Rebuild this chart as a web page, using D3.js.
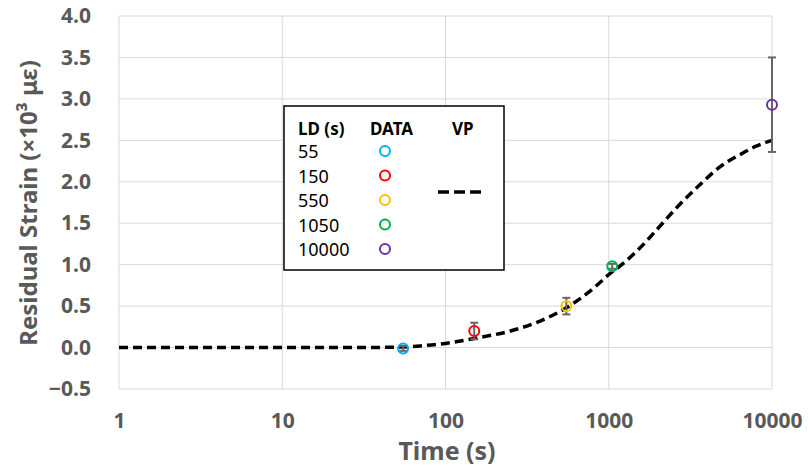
<!DOCTYPE html>
<html>
<head>
<meta charset="utf-8">
<script src="https://cdn.jsdelivr.net/npm/d3@7"></script>
<style>
  body { margin: 0; background: #fff; }
  svg { display: block; font-family: "Noto Sans", "Open Sans", sans-serif; }
</style>
</head>
<body>
<svg id="chart" width="810" height="467"></svg>
<script>
// measured data (LD times, residual strain in 10^3 microstrain)
var ldTimes = [55, 150, 550, 1050, 10000];
var ldLabels = ["55", "150", "550", "1050", "10000"];
var strain = [-0.01, 0.2, 0.5, 0.98, 2.93];
var strainErr = [0.03, 0.1, 0.1, 0.03, 0.57];
var ldColours = ["#00b0f0", "#ff0000", "#ffc000", "#00b050", "#7030a0"];

// VP model curve
var vpTime = [1, 10, 30, 50, 70, 100, 150, 250, 380, 550, 800, 1000, 1200, 1550, 2050, 2700, 3600, 4800, 6400, 8000, 10000];
var vpStrain = [0, 0, 0, 0.005, 0.02, 0.05, 0.11, 0.2, 0.32, 0.48, 0.71, 0.88, 1.0, 1.2, 1.46, 1.72, 1.96, 2.18, 2.33, 2.43, 2.5];

var xTicks = [1, 10, 100, 1000, 10000];
var yTicks = [-0.5, 0, 0.5, 1, 1.5, 2, 2.5, 3, 3.5, 4];

var svg = d3.select("#chart");
var margin = {left: 119, right: 38, top: 16, bottom: 78};
var width = 810 - margin.left - margin.right,
    height = 467 - margin.top - margin.bottom;

var x = d3.scaleLog().domain([1, 10000]).range([0, width]);
var y = d3.scaleLinear().domain([-0.5, 4]).range([height, 0]);

var g = svg.append("g").attr("transform", "translate(" + margin.left + "," + margin.top + ")");

// gridlines
g.append("g").selectAll("line").data(yTicks).enter().append("line")
  .attr("x1", 0).attr("x2", width)
  .attr("y1", function(d) { return y(d); }).attr("y2", function(d) { return y(d); })
  .style("stroke", "#d9d9d9").style("stroke-width", "1px");
g.append("g").selectAll("line").data(xTicks).enter().append("line")
  .attr("y1", 0).attr("y2", height)
  .attr("x1", function(d) { return x(d); }).attr("x2", function(d) { return x(d); })
  .style("stroke", "#d9d9d9").style("stroke-width", "1px");

// axes (labels only)
var yAxis = g.append("g").call(d3.axisLeft(y).tickValues(yTicks).tickFormat(d3.format(".1f")).tickSize(0).tickPadding(28));
var xAxis = g.append("g").attr("transform", "translate(0," + height + ")")
  .call(d3.axisBottom(x).tickValues(xTicks).tickFormat(d3.format("d")).tickSize(0).tickPadding(24));
[yAxis, xAxis].forEach(function(a) {
  a.select(".domain").remove();
  a.selectAll("text")
    .style("font-size", "21px").style("font-weight", "bold").style("fill", "#595959")
    .style("font-family", "'Noto Sans', sans-serif");
});

// axis titles
svg.append("text")
  .attr("transform", "translate(37,203) rotate(-90)")
  .attr("text-anchor", "middle")
  .style("font-size", "24px").style("font-weight", "bold").style("fill", "#595959")
  .text("Residual Strain (×10³ με)");
svg.append("text")
  .attr("x", 447).attr("y", 460)
  .attr("text-anchor", "middle")
  .style("font-size", "25px").style("font-weight", "bold").style("fill", "#595959")
  .text("Time (s)");

// VP curve
var line = d3.line()
  .x(function(d, i) { return x(vpTime[i]); })
  .y(function(d) { return y(d); })
  .curve(d3.curveMonotoneX);
g.append("path").datum(vpStrain)
  .attr("d", line)
  .style("fill", "none").style("stroke", "#000")
  .style("stroke-width", "3.5px").style("stroke-dasharray", "9,5");

// error bars
var eb = g.append("g").selectAll("g").data(ldTimes).enter().append("g");
eb.append("line")
  .attr("x1", function(d) { return x(d); }).attr("x2", function(d) { return x(d); })
  .attr("y1", function(d, i) { return y(strain[i] - strainErr[i]); })
  .attr("y2", function(d, i) { return y(strain[i] + strainErr[i]); });
eb.append("line")
  .attr("x1", function(d) { return x(d) - 4; }).attr("x2", function(d) { return x(d) + 4; })
  .attr("y1", function(d, i) { return y(strain[i] + strainErr[i]); })
  .attr("y2", function(d, i) { return y(strain[i] + strainErr[i]); });
eb.append("line")
  .attr("x1", function(d) { return x(d) - 4; }).attr("x2", function(d) { return x(d) + 4; })
  .attr("y1", function(d, i) { return y(strain[i] - strainErr[i]); })
  .attr("y2", function(d, i) { return y(strain[i] - strainErr[i]); });
eb.selectAll("line").style("stroke", "#666").style("stroke-width", "2px");

// markers
g.append("g").selectAll("circle").data(ldTimes).enter().append("circle")
  .attr("cx", function(d) { return x(d); })
  .attr("cy", function(d, i) { return y(strain[i]); })
  .attr("r", 5)
  .style("fill", "none")
  .style("stroke", function(d, i) { return ldColours[i]; })
  .style("stroke-width", "2px");

// legend box
var lg = svg.append("g");
lg.append("rect").attr("x", 284).attr("y", 106).attr("width", 220).attr("height", 164)
  .style("fill", "#fff").style("stroke", "#000").style("stroke-width", "1.5px");
var headers = [["LD (s)", 298], ["DATA", 370], ["VP", 452]];
lg.selectAll(".hdr").data(headers).enter().append("text")
  .attr("x", function(d) { return d[1]; }).attr("y", 135)
  .style("font-size", "17px").style("font-weight", "bold").style("fill", "#000")
  .text(function(d) { return d[0]; });
lg.selectAll(".lbl").data(ldLabels).enter().append("text")
  .attr("x", 298).attr("y", function(d, i) { return 158 + i * 24.5; })
  .style("font-size", "18px").style("fill", "#000")
  .text(function(d) { return d; });
lg.selectAll("circle").data(ldLabels).enter().append("circle")
  .attr("cx", 385).attr("cy", function(d, i) { return 151 + i * 24.5; })
  .attr("r", 5)
  .style("fill", "none")
  .style("stroke", function(d, i) { return ldColours[i]; })
  .style("stroke-width", "2px");
lg.append("line").attr("x1", 438).attr("x2", 482).attr("y1", 192).attr("y2", 192)
  .style("stroke", "#000").style("stroke-width", "3.5px").style("stroke-dasharray", "11,5");
</script>
</body>
</html>
